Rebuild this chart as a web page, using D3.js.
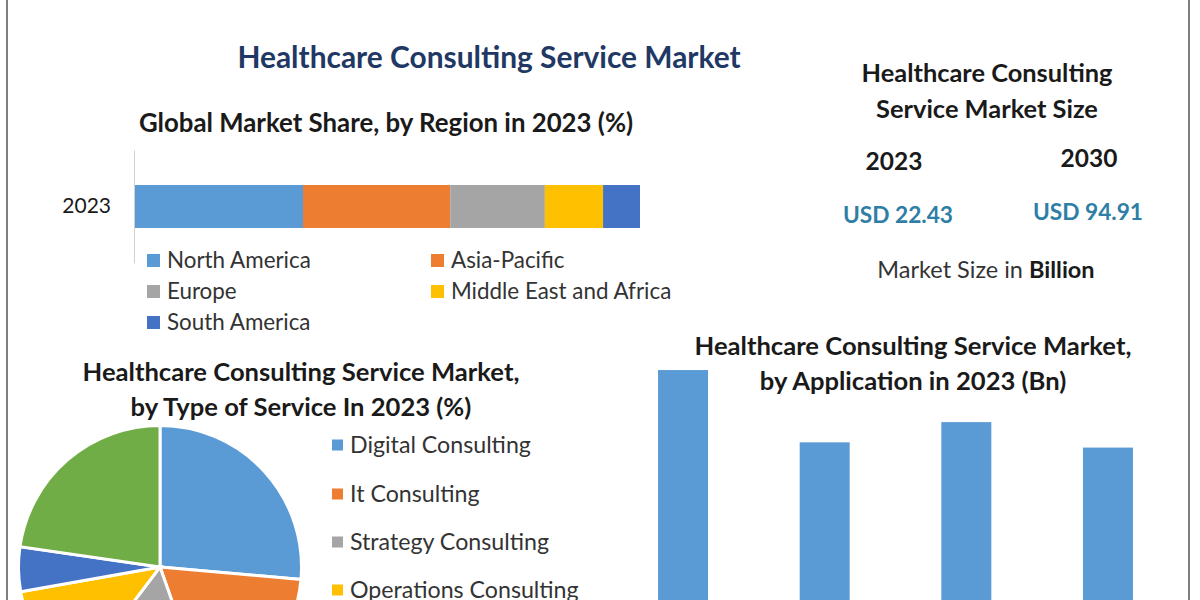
<!DOCTYPE html>
<html>
<head>
<meta charset="utf-8">
<script src="https://cdn.jsdelivr.net/npm/d3@7"></script>
<style>
  html, body { margin: 0; padding: 0; background: #fff; overflow: hidden; }
  svg { display: block; }
  text { font-family: Lato, "Open Sans", sans-serif; fill: #1a1a1a; }
</style>
</head>
<body>
<svg id="chart" width="1200" height="600"></svg>
<script>
// region share in 2023 (%)
const regions = ["North America", "Asia-Pacific", "Europe", "Middle East and Africa", "South America"]
const regionShare = [33.4, 29.1, 18.7, 11.5, 7.3]
const regionYears = ["2023"]

// type of service in 2023 (%), last slice has no visible legend row
const services = ["Digital Consulting", "It Consulting", "Strategy Consulting", "Operations Consulting", "Financial Consulting", "Other"]
const serviceShare = [26.4, 18.2, 15.7, 11.9, 5.1, 22.7]

// application bars in 2023 (Bn), the labels are cut off in the picture
const appSlots = [0, 1, 2, 3]
const appValues = [6.94, 5.01, 5.55, 4.87]

const colors = ["#5b9bd5", "#ed7d31", "#a5a5a5", "#ffc000", "#4472c4", "#70ad47"]

const svg = d3.select("#chart")

// frame lines left and right
svg.append("line").attr("x1", 7).attr("x2", 7).attr("y1", 0).attr("y2", 600).attr("stroke", "#555").attr("stroke-width", 1.5)
svg.append("line").attr("x1", 1189).attr("x2", 1189).attr("y1", 0).attr("y2", 600).attr("stroke", "#555").attr("stroke-width", 1.5)

function label(x, y, txt, size, weight, anchor, fill) {
  return svg.append("text")
    .attr("x", x).attr("y", y)
    .attr("dominant-baseline", "central")
    .attr("text-anchor", anchor || "middle")
    .style("font-size", size + "px")
    .style("font-weight", weight || 400)
    .style("fill", fill || "#1a1a1a")
    .text(txt)
}

label(489, 56, "Healthcare Consulting Service Market", 29.9, 700, "middle", "#1f3864")
label(386, 122, "Global Market Share, by Region in 2023 (%)", 25.8, 700)

// stacked bar
const xShare = d3.scaleLinear().domain([0, 100]).range([134, 640])
const yYear = d3.scaleBand().domain(regionYears).range([150, 263]).padding(0.449)

const stack = d3.stack().keys(regions)
const stackRows = regionYears.map(y => {
  const row = { year: y }
  regions.forEach((r, i) => { row[r] = regionShare[i] })
  return row
})

svg.selectAll("g.layer").data(stack(stackRows)).join("g")
  .attr("class", "layer")
  .attr("fill", (d, i) => colors[i])
  .selectAll("rect").data(d => d).join("rect")
  .attr("x", d => xShare(d[0]))
  .attr("width", d => xShare(d[1]) - xShare(d[0]))
  .attr("y", d => yYear(d.data.year))
  .attr("height", yYear.bandwidth())

const yAxis = svg.append("g").attr("transform", "translate(134,0)")
  .call(d3.axisLeft(yYear).tickSize(0).tickPadding(23))
yAxis.select(".domain").attr("stroke", "#d0d0d0")
yAxis.selectAll("text").style("font-size", "21px").style("font-family", "Lato")

// region legend
const regionLegendX = [147, 431, 147, 431, 147]
const regionLegendY = [260, 260, 291, 291, 322]
regions.forEach((r, i) => {
  svg.append("rect").attr("x", regionLegendX[i]).attr("y", regionLegendY[i] - 6).attr("width", 13).attr("height", 13).attr("fill", colors[i])
  label(regionLegendX[i] + 20, regionLegendY[i] - 1, r, 22.4, 400, "start", "#333")
})

// pie
label(301, 371, "Healthcare Consulting Service Market,", 25.6, 700)
label(301, 406, "by Type of Service In 2023 (%)", 25.6, 700)

const pie = d3.pie().sort(null)
const arc = d3.arc().innerRadius(0).outerRadius(141.5)
svg.append("g").attr("transform", "translate(160,567)")
  .selectAll("path").data(pie(serviceShare)).join("path")
  .attr("d", arc)
  .attr("fill", (d, i) => colors[i])
  .attr("stroke", "#fff")
  .attr("stroke-width", 3)

const serviceLegendY = [445, 494, 542, 590]
services.slice(0, 4).forEach((s, i) => {
  svg.append("rect").attr("x", 332).attr("y", serviceLegendY[i] - 5.5).attr("width", 11).attr("height", 11).attr("fill", colors[i])
  label(350, serviceLegendY[i] - 1, s, 23.2, 400, "start", "#333")
})

// market size panel
label(987, 72, "Healthcare Consulting", 25.4, 700)
label(987, 108, "Service Market Size", 25.4, 700)
label(894, 160, "2023", 24.5, 700)
label(1089, 157, "2030", 24.5, 700)
label(898, 214, "USD 22.43", 22.7, 700, "middle", "#2e7ea6")
label(1088, 211, "USD 94.91", 22.7, 700, "middle", "#2e7ea6")

const sizeNote = label(986, 269, "Market Size in ", 23.5, 400, "middle", "#333")
sizeNote.append("tspan").style("font-weight", 700).style("fill", "#1a1a1a").text("Billion")

// application bars
const xApp = d3.scaleBand().domain(appSlots).range([612, 1179]).paddingInner(0.647).paddingOuter(0.325)
const yApp = d3.scaleLinear().domain([0, 7]).range([630, 367.8])

svg.selectAll("rect.app").data(appValues).join("rect")
  .attr("class", "app")
  .attr("x", (d, i) => xApp(appSlots[i]))
  .attr("width", xApp.bandwidth())
  .attr("y", d => yApp(d))
  .attr("height", d => yApp(0) - yApp(d))
  .attr("fill", colors[0])

label(913, 345, "Healthcare Consulting Service Market,", 25.6, 700)
label(913, 380, "by Application in 2023 (Bn)", 25.6, 700)
</script>
</body>
</html>
